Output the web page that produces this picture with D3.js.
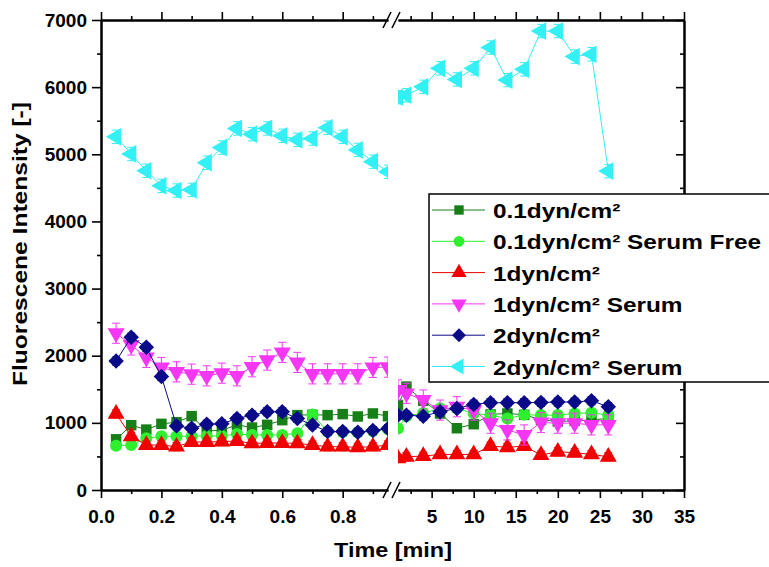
<!DOCTYPE html>
<html>
<head>
<meta charset="utf-8">
<script src="https://cdn.jsdelivr.net/npm/d3@7"></script>
<style>
  body { margin: 0; background: #fff; }
  svg { display: block; font-family: "Liberation Sans", Arial, sans-serif; font-weight: bold; }
</style>
</head>
<body>
<div id="chart"></div>
<script>
// time points, short run (0-1 min) and long run (1-26 min)
const timeShort = [0.05,0.1,0.15,0.2,0.25,0.3,0.35,0.4,0.45,0.5,0.55,0.6,0.65,0.7,0.75,0.8,0.85,0.9,0.95];
const timeLong = [1,2,4,6,8,10,12,14,16,18,20,22,24,26];
const times = timeShort.concat(timeLong);

const seriesNames = ["0.1dyn/cm²","0.1dyn/cm² Serum Free","1dyn/cm²","1dyn/cm² Serum","2dyn/cm²","2dyn/cm² Serum"];
const seriesColors = ["#177f17","#2ef02e","#f00000","#f536f5","#0a0a88","#33f0f5"];
const seriesErr = [50,40,60,150,60,100];

const dyn01 = [755,965,900,985,1010,1100,880,890,970,930,970,1040,1115,1120,1115,1130,1095,1140,1100,
               1265,1540,1330,1140,920,980,1125,1140,1120,1045,1020,1030,1045,1065];
const dyn01SF = [660,670,770,800,800,800,805,805,835,820,820,820,845,1125,870,865,855,880,905,
                 915,1100,1145,1215,1215,1140,1115,1065,1120,1115,1115,1140,1150,1115];
const dyn1 = [1135,800,670,670,645,715,715,720,730,695,700,700,695,670,645,645,635,645,670,
              470,495,505,530,530,530,655,635,655,520,570,555,530,495];
const dyn1S = [2335,2160,1975,1825,1760,1725,1700,1740,1700,1835,1935,2050,1900,1730,1730,1730,1730,1825,1830,
               1490,1440,1340,1190,1240,1190,995,895,820,1005,995,995,970,970];
const dyn2 = [1920,2275,2125,1690,955,920,980,985,1065,1115,1165,1165,1065,968,870,870,860,885,915,
              1115,1115,1100,1165,1215,1275,1300,1300,1300,1305,1310,1310,1330,1240];
const dyn2S = [5260,5005,4755,4530,4460,4470,4875,5100,5385,5300,5385,5275,5215,5235,5395,5260,5065,4890,4740,
               5850,5880,6005,6280,6115,6280,6590,6105,6265,6835,6835,6455,6490,4750];
const seriesValues = [dyn01, dyn01SF, dyn1, dyn1S, dyn2, dyn2S];

const yTicks = [0,1000,2000,3000,4000,5000,6000,7000];
const xTicksShort = [0,0.2,0.4,0.6,0.8];
const xTicksLong = [5,10,15,20,25,30,35];

const W = 769, H = 567;
const svg = d3.select("#chart").append("svg").attr("width", W).attr("height", H);

const xL = d3.scaleLinear().domain([0,0.95]).range([101,388]);
const xR = d3.scaleLinear().domain([1,35]).range([398,684]);
const y = d3.scaleLinear().domain([0,7000]).range([490,20]);

// clip each half of the broken axis
const defs = svg.append("defs");
defs.append("clipPath").attr("id","clipL").append("rect")
  .attr("x",101).attr("y",0).attr("width",388-101).attr("height",H);
defs.append("clipPath").attr("id","clipR").append("rect")
  .attr("x",398).attr("y",0).attr("width",684-398).attr("height",H);

// marker shapes
const shapes = [
  {type:d3.symbolSquare, size:110, rot:0},
  {type:d3.symbolCircle, size:115, rot:0},
  {type:d3.symbolTriangle, size:125, rot:0},
  {type:d3.symbolTriangle, size:125, rot:180},
  {type:d3.symbolSquare, size:120, rot:45},
  {type:d3.symbolTriangle, size:135, rot:-90}
];

function stretch(sel, k) {
  sel.each(function(){
    const L = this.getComputedTextLength();
    d3.select(this).attr("textLength", L*k).attr("lengthAdjust","spacingAndGlyphs");
  });
}

// axes
function styleAxis(g) {
  g.selectAll("path.domain").attr("stroke","#000").attr("stroke-width",2);
  g.selectAll(".tick line").attr("stroke","#000").attr("stroke-width",1.6);
  g.selectAll(".tick text").attr("fill","#000").style("font-size","19px").style("font-weight","bold")
    .style("font-family","'Liberation Sans', Arial, sans-serif");
}

// bottom
[[xL, xTicksShort, [0.1,0.3,0.5,0.7,0.9], d3.format(".1f")],
 [xR, xTicksLong, [2.5,7.5,12.5,17.5,22.5,27.5,32.5], d3.format("d")]].forEach(([sc, maj, mnr, fmt]) => {
  svg.append("g").attr("transform","translate(0,490)")
    .call(d3.axisBottom(sc).tickValues(mnr).tickSizeInner(4).tickSizeOuter(0).tickFormat(""))
    .call(styleAxis);
  svg.append("g").attr("transform","translate(0,490)")
    .call(d3.axisBottom(sc).tickValues(maj).tickSizeInner(8).tickSizeOuter(0).tickPadding(12).tickFormat(fmt))
    .call(styleAxis);
  // top mirror
  svg.append("g").attr("transform","translate(0,20)")
    .call(d3.axisBottom(sc).tickValues(mnr).tickSizeInner(-4).tickSizeOuter(0).tickFormat(""))
    .call(styleAxis);
  svg.append("g").attr("transform","translate(0,20)")
    .call(d3.axisBottom(sc).tickValues(maj).tickSizeInner(-8).tickSizeOuter(0).tickFormat(""))
    .call(styleAxis);
});

const yMinor = d3.range(500,7000,1000);
svg.append("g").attr("transform","translate(101,0)")
  .call(d3.axisLeft(y).tickValues(yMinor).tickSizeInner(4).tickSizeOuter(0).tickFormat(""))
  .call(styleAxis);
svg.append("g").attr("transform","translate(101,0)")
  .call(d3.axisLeft(y).tickValues(yTicks).tickSizeInner(9).tickSizeOuter(0).tickPadding(5).tickFormat(d3.format("d")))
  .call(styleAxis);
svg.append("g").attr("transform","translate(684,0)")
  .call(d3.axisRight(y).tickValues(yMinor).tickSizeInner(-4).tickSizeOuter(0).tickFormat(""))
  .call(styleAxis);
svg.append("g").attr("transform","translate(684,0)")
  .call(d3.axisRight(y).tickValues(yTicks).tickSizeInner(-8).tickSizeOuter(0).tickFormat(""))
  .call(styleAxis);

// break marks
[20,490].forEach(yy => {
  [387,396].forEach(cx => {
    svg.append("line").attr("x1",cx-4).attr("y1",yy+8).attr("x2",cx+4).attr("y2",yy-8)
      .attr("stroke","#000").attr("stroke-width",1.6);
  });
});

// series
const halves = [
  {sc:xL, idx:d3.range(0,timeShort.length), clip:"url(#clipL)"},
  {sc:xR, idx:d3.range(timeShort.length, times.length), clip:"url(#clipR)"}
];

seriesValues.forEach((vals, s) => {
  const col = seriesColors[s];
  const sym = d3.symbol().type(shapes[s].type).size(shapes[s].size);
  halves.forEach(h => {
    const g = svg.append("g").attr("clip-path", h.clip);
    const pts = h.idx.map(i => [h.sc(times[i]), y(vals[i]), vals[i]]);
    g.append("path")
      .attr("d", d3.line()(pts.map(p => [p[0], p[1]])))
      .attr("fill","none").attr("stroke",col).attr("stroke-width",1);
    const e = seriesErr[s];
    pts.forEach(p => {
      const y1 = y(p[2]+e), y2 = y(p[2]-e);
      g.append("line").attr("x1",p[0]).attr("x2",p[0]).attr("y1",y1).attr("y2",y2)
        .attr("stroke",col).attr("stroke-width",1);
      [y1,y2].forEach(yy => g.append("line").attr("x1",p[0]-4).attr("x2",p[0]+4)
        .attr("y1",yy).attr("y2",yy).attr("stroke",col).attr("stroke-width",1));
    });
    g.selectAll("path.mk").data(pts).enter().append("path").attr("class","mk")
      .attr("transform", p => "translate(" + p[0] + "," + p[1] + ") rotate(" + shapes[s].rot + ")")
      .attr("d", sym()).attr("fill", col);
  });
});

// axis titles
svg.append("text").attr("x",393).attr("y",557).attr("text-anchor","middle")
  .style("font-size","20px").text("Time [min]").call(stretch, 1.17);
svg.append("text").attr("transform","translate(27,244) rotate(-90)").attr("text-anchor","middle")
  .style("font-size","21px").text("Fluorescene Intensity [-]").call(stretch, 1.17);

// legend
const lg = svg.append("g");
lg.append("rect").attr("x",429).attr("y",194).attr("width",420).attr("height",188)
  .attr("fill","#fff").attr("stroke","#000").attr("stroke-width",1.5);
seriesNames.forEach((name, s) => {
  const yy = 210 + s*31.3;
  lg.append("line").attr("x1",432).attr("x2",485).attr("y1",yy).attr("y2",yy)
    .attr("stroke",seriesColors[s]).attr("stroke-width",1);
  lg.append("path").attr("transform","translate(459," + yy + ") rotate(" + shapes[s].rot + ")")
    .attr("d", d3.symbol().type(shapes[s].type).size(shapes[s].size*0.8)()).attr("fill",seriesColors[s]);
  lg.append("text").attr("x",493).attr("y",yy+8).style("font-size","21px").text(name).call(stretch, 1.16);
});
</script>
</body>
</html>
